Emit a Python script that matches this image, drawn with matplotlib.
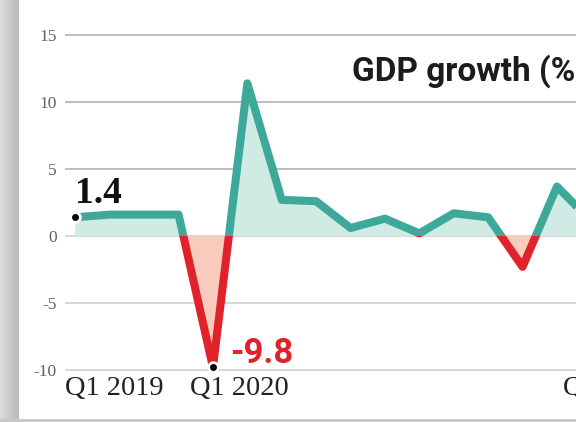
import numpy as np
import matplotlib.pyplot as plt
import matplotlib.transforms as mtransforms
from matplotlib.patches import Rectangle

# quarterly GDP growth, Q1 2019 onwards
quarters = np.arange(16)
growth = np.array([1.4, 1.6, 1.6, 1.6, -9.8, 11.4, 2.7, 2.6, 0.6, 1.3, 0.2, 1.7, 1.4, -2.3, 3.7, 1.1])
x_labels = ["Q1 2019", "Q1 2020", "Q1 2023"]
y_ticks = [-10, -5, 0, 5, 10, 15]

# where the quarter labels start (in quarter units)
x_label_pos = [-0.30, 3.33, 14.17]

TEAL = "#3ea99a"
TEAL_FILL = "#d0eae4"
RED = "#e0222b"
RED_FILL = "#f9cbbd"

fig = plt.figure(figsize=(5.76, 4.22), dpi=100)
ax = fig.add_axes([0.1128, 0.0915, 0.9736, 0.857])
ax.set_xlim(-0.302, 16)
ax.set_ylim(-11, 16)

for y in y_ticks:
    ax.axhline(y, color="#b8b8b8" if y > 0 else "#d4d4d4", lw=1.3, zorder=0)

ax.fill_between(quarters, growth, 0, where=growth >= 0, interpolate=True,
                color=TEAL_FILL, lw=0, zorder=1)
ax.fill_between(quarters, growth, 0, where=growth <= 0, interpolate=True,
                color=RED_FILL, lw=0, zorder=1)

# same line twice, clipped above and below zero
up, = ax.plot(quarters, growth, color=TEAL, lw=5.8, solid_joinstyle="round",
              solid_capstyle="butt", zorder=3)
up.set_clip_path(Rectangle((-5, 0), 30, 50, transform=ax.transData))
down, = ax.plot(quarters, growth, color=RED, lw=5.8, solid_joinstyle="round",
                solid_capstyle="butt", zorder=3)
down.set_clip_path(Rectangle((-5, -50), 30, 50, transform=ax.transData))

# marked values
first = growth[0]
low = growth.min()
i_low = int(np.argmin(growth))
ax.plot([0, i_low], [first, low], "o", color="black", ms=7, mec="white", mew=2, zorder=5)
ax.annotate(f"{first:.1f}", xy=(0, first), xytext=(0, 10), textcoords="offset points",
            ha="left", va="baseline", fontsize=27, fontweight="bold",
            family="Liberation Serif", color="#111111")
ax.annotate(f"{low:.1f}", xy=(i_low, low), xytext=(12, 3), textcoords="offset points",
            ha="left", va="baseline", fontsize=25, fontweight="bold",
            family="Roboto", color=RED)

ax.set_yticks(y_ticks)
ax.set_yticklabels([str(t) for t in y_ticks], family="Liberation Serif")
ax.tick_params(axis="y", length=0, pad=6, labelsize=12.5, labelcolor="#606060")
ax.set_xticks([])
for s in ax.spines.values():
    s.set_visible(False)

trans = mtransforms.blended_transform_factory(ax.transData, fig.transFigure)
for pos, lab in zip(x_label_pos, x_labels):
    ax.text(pos, 0.064, lab, transform=trans, ha="left", va="baseline",
            fontsize=20.5, family="Liberation Serif", color="#222222", clip_on=False)

fig.text(0.611, 0.81, "GDP growth (%)", ha="left", va="baseline", fontsize=24,
         fontweight="bold", family="Roboto", color="#1c1c1c")

# page edge shading on the left and bottom
ax_edge = fig.add_axes([0, 0, 19 / 576, 1])
shade = np.linspace(0.86, 0.72, 19)[None, :]
ax_edge.imshow(shade, cmap="gray", vmin=0, vmax=1, aspect="auto", extent=[0, 1, 0, 1])
ax_edge.axis("off")
fig.add_artist(Rectangle((0, 0), 1, 3 / 422, transform=fig.transFigure,
                         color="#c8c8c8", lw=0))

fig.savefig("out.png", dpi=100)
